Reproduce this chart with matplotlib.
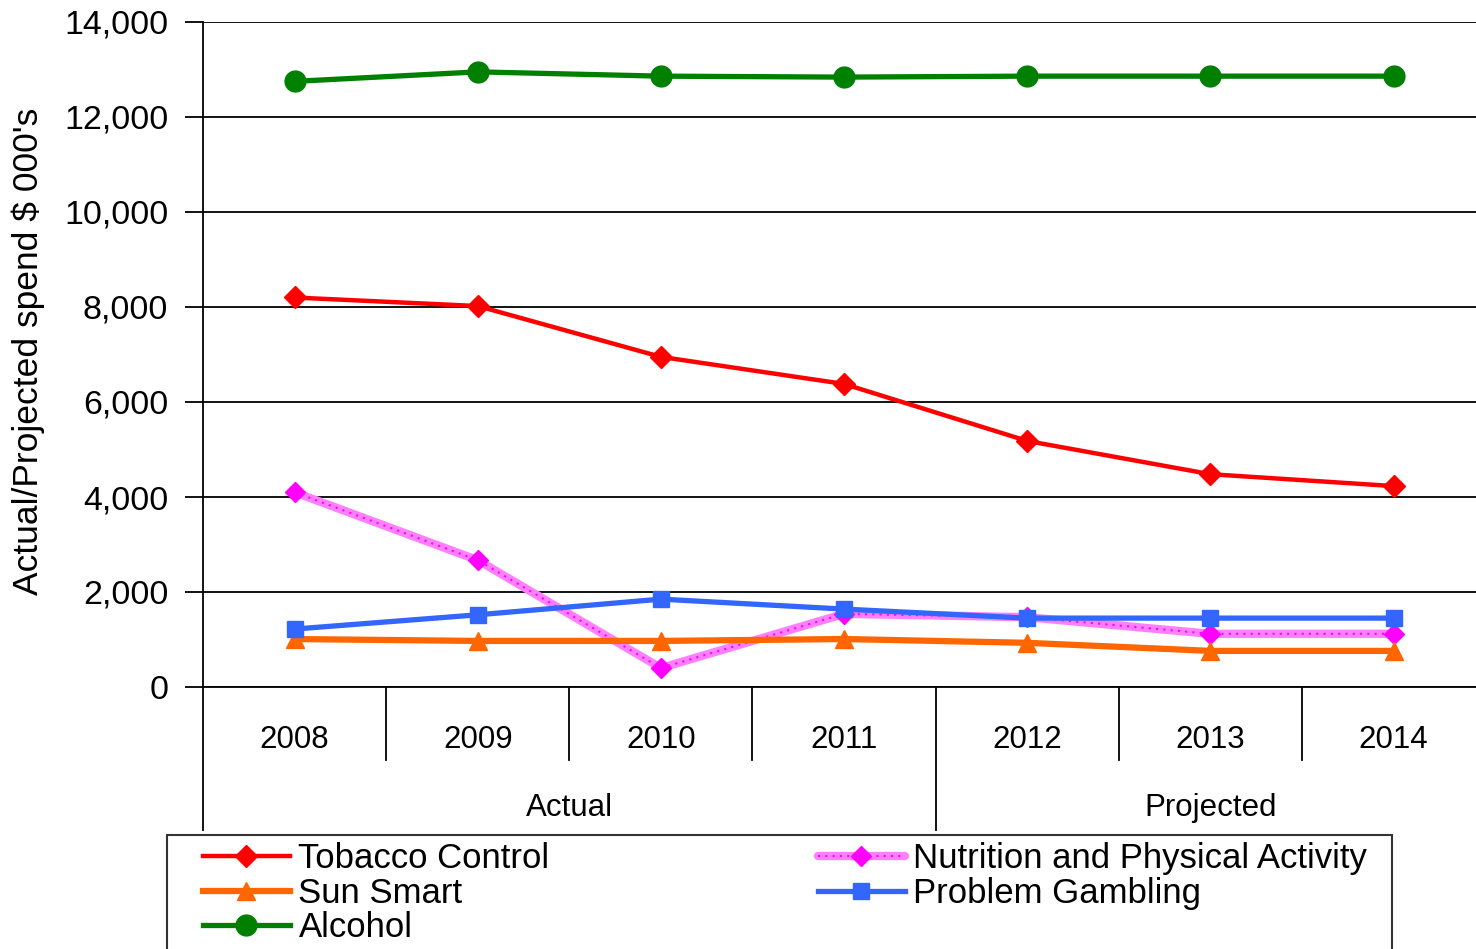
import matplotlib
matplotlib.use("Agg")
import matplotlib.pyplot as plt
from matplotlib.patches import Rectangle
from matplotlib.legend_handler import HandlerTuple
from matplotlib import font_manager

years = ["2008", "2009", "2010", "2011", "2012", "2013", "2014"]
groups = ["Actual", "Projected"]
tobacco = [8200, 8020, 6950, 6380, 5180, 4480, 4230]
nutrition = [4100, 2670, 400, 1540, 1470, 1120, 1120]
sun_smart = [1010, 970, 970, 1010, 930, 760, 760]
gambling = [1220, 1520, 1850, 1640, 1450, 1450, 1450]
alcohol = [12750, 12950, 12860, 12840, 12860, 12860, 12860]
yticks = [0, 2000, 4000, 6000, 8000, 10000, 12000, 14000]

avail = {f.name for f in font_manager.fontManager.ttflist}
narrow = "Liberation Sans Narrow" if "Liberation Sans Narrow" in avail else "Liberation Sans"
cat_size = 24 if narrow == "Liberation Sans Narrow" else 22.5
plt.rcParams['font.family'] = ['Liberation Sans', 'DejaVu Sans']

W, H = 1476, 949
fig = plt.figure(figsize=(W / 100, H / 100), dpi=100)
ax = fig.add_axes([203 / W, (H - 687) / H, (W - 203) / W, (687 - 22) / H])

x = list(range(len(years)))

l_pink, = ax.plot(x, nutrition, color="#FF80FF", lw=6, solid_capstyle="round", zorder=3)
l_mag, = ax.plot(x, nutrition, color="#FF00FF", lw=1.5, ls=(0, (1, 2.5)),
                 marker="D", ms=10, mec="#FF00FF", mfc="#FF00FF", zorder=3.1)
l_sun, = ax.plot(x, sun_smart, color="#FF6600", lw=4.5, marker="^", ms=13, zorder=4)
l_gam, = ax.plot(x, gambling, color="#3366FF", lw=3.8, marker="s", ms=11, zorder=5)
l_tob, = ax.plot(x, tobacco, color="#FF0000", lw=3.2, marker="D", ms=11, zorder=6)
l_alc, = ax.plot(x, alcohol, color="#008000", lw=3.8, marker="o", ms=15, zorder=7)

ax.set_xlim(-0.5, 6.45)
ax.set_ylim(0, 14000)
ax.set_yticks(yticks)
ax.set_yticklabels([f"{v:,}" for v in yticks], fontsize=24.5)
ax.tick_params(axis="y", length=13, width=1.3, pad=12, color="black")
ax.set_xticks([])
ax.grid(axis="y", color="black", lw=1.3)
ax.set_axisbelow(True)
for s in ["top", "right"]:
    ax.spines[s].set_visible(False)
ax.spines["left"].set_linewidth(1.3)
ax.spines["bottom"].set_linewidth(1.3)

ax.set_ylabel("Actual/Projected spend $ 000's", fontsize=25.5)
ax.yaxis.set_label_coords(-0.124, 0.505)

trans = ax.get_xaxis_transform()
y_short = -(760 - 687) / 665
y_long = -(830 - 687) / 665
for i in range(len(years) - 1):
    b = i + 0.5
    yy = y_long if i == 3 else y_short
    ax.plot([b, b], [0, yy], color="black", lw=1.3, transform=trans, clip_on=False)
ax.plot([-0.5, -0.5], [0, y_long], color="black", lw=1.3, transform=trans, clip_on=False)
for i, yr in enumerate(years):
    ax.text(i, -(740 - 687) / 665, yr, transform=trans, ha="center", va="center",
            fontsize=cat_size, family=narrow)
ax.text(1.5, -(808 - 687) / 665, groups[0], transform=trans, ha="center", va="center",
        fontsize=cat_size, family=narrow)
ax.text(5.0, -(808 - 687) / 665, groups[1], transform=trans, ha="center", va="center",
        fontsize=cat_size, family=narrow)

fig.add_artist(Rectangle((167 / W, -0.05), (1392 - 167) / W, (H - 835) / H + 0.05,
                         transform=fig.transFigure, fill=False, ec="#333333", lw=1.5))

leg_kw = dict(loc="upper left", frameon=False, fontsize=25, borderpad=0, borderaxespad=0,
              handlelength=2.5, handletextpad=0.25, labelspacing=0.05)
leg1 = fig.legend([l_tob, l_sun, l_alc], ["Tobacco Control", "Sun Smart", "Alcohol"],
                  bbox_to_anchor=(203 / W, (H - 842) / H), **leg_kw)
leg2 = fig.legend([(l_pink, l_mag), l_gam], ["Nutrition and Physical Activity", "Problem Gambling"],
                  bbox_to_anchor=(818 / W, (H - 842) / H),
                  handler_map={tuple: HandlerTuple(ndivide=1, pad=0)}, **leg_kw)

fig.savefig("out.png", dpi=100)
